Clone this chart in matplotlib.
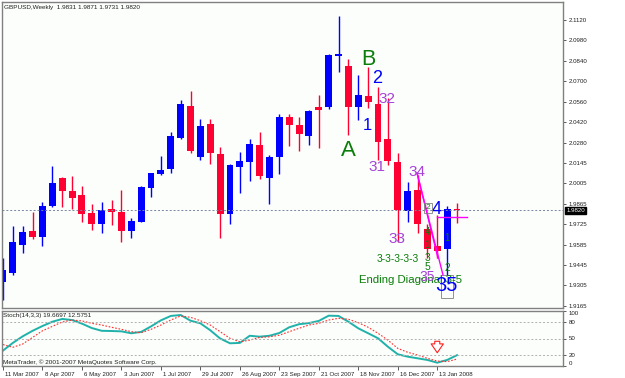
import matplotlib
matplotlib.use("Agg")
import matplotlib.pyplot as plt
import matplotlib.transforms as mtransforms
from matplotlib.patches import Rectangle
import numpy as np

plt.rcParams['font.family'] = ['Liberation Sans', 'DejaVu Sans']

# weekly GBPUSD candles, 11 Mar 2007 .. 27 Jan 2008
opens = [1.9331, 1.9389, 1.9582, 1.9680, 1.9635, 1.9849, 2.0042, 1.9951, 1.9924, 1.9803,
         1.9726, 1.9828, 1.9808, 1.9678, 1.9741, 1.9970, 2.0067, 2.0100, 2.0316, 2.0534,
         2.0186, 2.0407, 2.0204, 1.9794, 2.0117, 2.0151, 2.0266, 2.0042, 2.0186, 2.0455,
         2.0402, 2.0329, 2.0523, 2.0523, 2.0874, 2.0808, 2.0523, 2.0601, 2.0546, 2.0307,
         2.0147, 1.9817, 1.9958, 1.9689, 1.9577, 1.9555, 1.9831]
highs = [1.9493, 1.9712, 1.9712, 1.9810, 1.9878, 2.0122, 2.0049, 2.0056, 1.9985, 1.9862,
         1.9878, 1.9890, 1.9958, 1.9769, 1.9985, 2.0076, 2.0190, 2.0357, 2.0573, 2.0637,
         2.0445, 2.0445, 2.0250, 2.0134, 2.0220, 2.0307, 2.0357, 2.0197, 2.0478, 2.0478,
         2.0455, 2.0505, 2.0607, 2.0888, 2.1147, 2.0851, 2.0744, 2.0801, 2.0660, 2.0585,
         2.0209, 2.0011, 2.0059, 1.9726, 1.9787, 1.9845, 1.9871]
lows = [1.9206, 1.9377, 1.9530, 1.9621, 1.9575, 1.9844, 1.9844, 1.9826, 1.9741, 1.9685,
        1.9662, 1.9719, 1.9605, 1.9632, 1.9737, 1.9912, 2.0061, 2.0076, 2.0307, 2.0213,
        2.0163, 2.0136, 1.9632, 1.9726, 1.9940, 2.0022, 2.0033, 1.9862, 2.0067, 2.0259,
        2.0227, 2.0266, 2.0243, 2.0510, 2.0767, 2.0334, 2.0437, 2.0517, 2.0163, 2.0129,
        1.9605, 1.9741, 1.9662, 1.9493, 1.9491, 1.9380, 1.9731]
closes = [1.9411, 1.9605, 1.9669, 1.9635, 1.9849, 2.0008, 1.9953, 1.9905, 1.9794, 1.9726,
          1.9821, 1.9806, 1.9680, 1.9746, 1.9981, 2.0072, 2.0095, 2.0327, 2.0546, 2.0225,
          2.0395, 2.0213, 1.9794, 2.0129, 2.0158, 2.0272, 2.0056, 2.0186, 2.0455, 2.0402,
          2.0341, 2.0500, 2.0505, 2.0881, 2.0886, 2.0527, 2.0607, 2.0562, 2.0288, 2.0158,
          1.9821, 1.9951, 1.9726, 1.9555, 1.9541, 1.9831, 1.9820]

stoch_main = [28, 42, 54, 64, 72.7, 80.5, 85.5, 83.6, 77, 69, 64, 63.6, 63, 59.5, 62, 72,
              83, 91, 92.7, 82.4, 77.6, 65, 50, 41.3, 42, 55, 53.3, 55, 60, 70.4, 76, 78,
              82, 91.5, 91, 80.5, 68.5, 59.5, 50.4, 35, 21.3, 17, 14, 11, 6, 11, 19.67]
stoch_signal = [39, 34, 40, 52, 64, 72, 80, 83.6, 82, 77.6, 74.5, 70.4, 66.7, 62.4, 60.5,
                66.7, 74.5, 83.6, 91, 88.5, 82.4, 74.5, 62.4, 50.4, 44, 47, 52, 53, 56,
                62.4, 68.6, 74.5, 77.6, 83.6, 86.7, 85, 78.8, 70.4, 59.5, 47, 32, 25, 20,
                14, 9, 8, 12.58]

date_labels = ["11 Mar 2007", "8 Apr 2007", "6 May 2007", "3 Jun 2007", "1 Jul 2007",
               "29 Jul 2007", "26 Aug 2007", "23 Sep 2007", "21 Oct 2007", "18 Nov 2007",
               "16 Dec 2007", "13 Jan 2008"]
price_ticks = [2.1120, 2.0980, 2.0840, 2.0700, 2.0560, 2.0420, 2.0280, 2.0145, 2.0005,
               1.9865, 1.9725, 1.9585, 1.9445, 1.9305, 1.9165]
stoch_ticks = [100, 80, 50, 20, 0]

BLUE = '#0000ff'
RED = '#ff0033'
GREEN = '#0a7d0a'
PURPLE = '#a642d8'
MAGENTA = '#ff00ff'
EDGE = '#808080'
BG = '#fbfefb'

fig = plt.figure(figsize=(6.25, 3.78), dpi=100)
fig.patch.set_facecolor('white')
L, W = 2 / 625, 561 / 625
ax = fig.add_axes([L, 70 / 378, W, 306 / 378])
ax2 = fig.add_axes([L, 12 / 378, W, 55 / 378])

x = np.arange(len(opens))
o, h, l, c = (np.array(v) for v in (opens, highs, lows, closes))
col = np.where(c >= o, BLUE, RED)

ax.vlines(x, l, h, colors=col, lw=1)
ax.bar(x, np.maximum(np.abs(c - o), 0.0004), bottom=np.minimum(o, c), width=0.7,
       color=col, lw=0)
ax.axhline(closes[-1], color='#7886a0', lw=0.7, ls=(0, (2, 2)))

xlim = (-0.1, 56.74)
for a in (ax, ax2):
    a.set_facecolor(BG)
    a.set_xlim(*xlim)
    for s in a.spines.values():
        s.set_color(EDGE)
        s.set_linewidth(1)
    a.yaxis.tick_right()
    a.tick_params(axis='y', labelsize=4.4, length=2.5, width=0.6, pad=1.5,
                  color='#404040', labelcolor='#202020')

ax.set_ylim(1.9151, 2.1243)
ax.set_yticks(price_ticks)
ax.set_yticklabels([f"{v:.4f}" for v in price_ticks])
ax.set_xticks([])

# current price marker on the axis
bt = mtransforms.blended_transform_factory(ax.transAxes, ax.transData)
ax.text(1.006, closes[-1], f"{closes[-1]:.4f}", transform=bt, ha='left', va='center',
        fontsize=4.4, color='white',
        bbox=dict(boxstyle='square,pad=0.15', fc='black', ec='black'))

# stochastic panel
ax2.plot(x, stoch_main, color='#20b2aa', lw=1.4)
ax2.plot(x, stoch_signal, color='#ff3030', lw=0.8, ls=(0, (1.5, 1.5)))
for lv in (80, 50, 20):
    ax2.axhline(lv, color='#b0b0b0', lw=0.7, ls=(0, (2, 2)))
ax2.set_ylim(0, 100)
ax2.set_yticks(stoch_ticks)
ax2.set_yticklabels([str(v) for v in stoch_ticks])
ax2.get_yticklabels()[0].set_va('top')
ax2.get_yticklabels()[-1].set_va('bottom')
ax2.set_xticks(x[::4][:len(date_labels)])
ax2.set_xticklabels(date_labels)
ax2.tick_params(axis='x', labelsize=4.4, length=3, width=0.6, pad=1.5,
                color='#404040', labelcolor='#202020')
shift = mtransforms.ScaledTranslation(1.5 / 72, 0, fig.dpi_scale_trans)
for lbl in ax2.get_xticklabels():
    lbl.set_ha('left')
    lbl.set_transform(lbl.get_transform() + shift)

ax2.annotate('', xy=(44, 19), xytext=(44, 50),
             arrowprops=dict(arrowstyle='simple,head_width=1.1,head_length=0.8,tail_width=0.45',
                             fc='white', ec='#ff2020', lw=0.8, mutation_scale=8))

# header texts
fig.text(4 / 625, 1 - 7 / 378, "GBPUSD,Weekly  1.9831 1.9871 1.9731 1.9820",
         fontsize=4.6, va='center', color='#202020')
fig.text(3 / 625, 1 - 316 / 378, "Stoch(14,3,3) 19.6697 12.5751",
         fontsize=4.6, va='center', color='#202020')
fig.text(3 / 625, 1 - 362 / 378, "MetaTrader, \u00a9 2001-2007 MetaQuotes Software Corp.",
         fontsize=4.6, va='center', color='#202020')

# wave labels
def lab(xi, yp, s, color, size, **kw):
    ax.text(xi, yp, s, color=color, fontsize=size, ha=kw.pop('ha', 'center'),
            va='center', **kw)

lab(34.95, 2.0231, "A", GREEN, 16)
lab(36.98, 2.0853, "B", GREEN, 15.5)
lab(37.89, 2.0717, "2", BLUE, 13)
lab(36.88, 2.0402, "1", BLUE, 12)
lab(38.90, 2.0580, "32", PURPLE, 11)
lab(37.89, 2.0115, "31", PURPLE, 11)
lab(41.95, 2.0081, "34", PURPLE, 11)
lab(39.92, 1.9623, "33", PURPLE, 11)
lab(43.97, 1.9821, "4", BLUE, 13)
lab(43.06, 1.9835, "2", GREEN, 6,
    bbox=dict(boxstyle='square,pad=0.15', fc='none', ec='#808080', lw=0.6))
lab(43.0, 1.9671, "4", GREEN, 7)
lab(43.0, 1.9582, "1", GREEN, 7)
lab(45.0, 1.9630, "1", GREEN, 7)
lab(40.0, 1.9486, "3-3-3-3-3", GREEN, 7.4)
lab(43.0, 1.9493, "3", GREEN, 7.4)
lab(43.0, 1.9432, "5", GREEN, 7.4)
lab(45.0, 1.9425, "2", GREEN, 7.4)
lab(36.1, 1.9343, "Ending Diagonal 3-5", GREEN, 8.2, ha='left')
lab(42.96, 1.9363, "35", PURPLE, 10)
lab(44.88, 1.9302, "35", BLUE, 14.5)
ax.add_patch(Rectangle((44.38, 1.9220), 1.21, 0.0157, fill=False, ec='#909090', lw=0.7))

# diagonal lines from 34
ax.plot([41.95, 44.07], [2.0074, 1.9493], color=MAGENTA, lw=1)
ax.plot([41.95, 44.58], [2.0074, 1.9377], color=MAGENTA, lw=1)
ax.plot([43.97, 47.0], [1.9773, 1.9773], color=MAGENTA, lw=1)

fig.savefig("out.png", dpi=100, facecolor='white')
